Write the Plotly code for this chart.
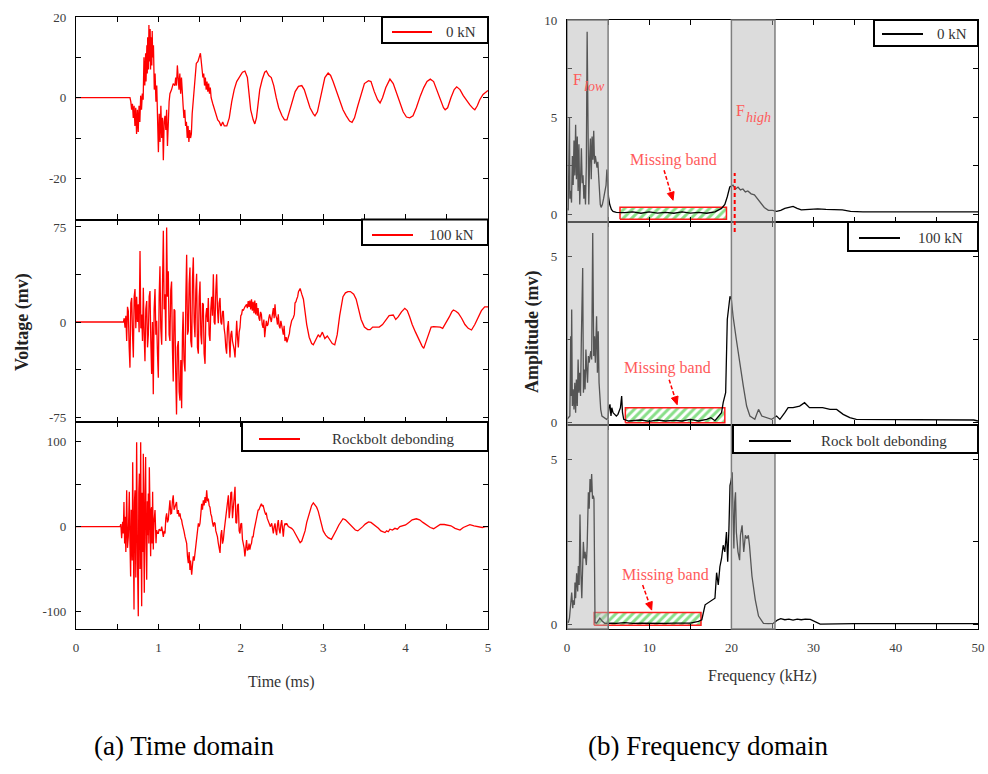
import math
import plotly.graph_objects as go

W, H = 988, 774

# ---------------- data ----------------
# time-domain signals: (time ms, voltage mV)
sig_0kN = [(0,0),(0.655,0),(0.665,-1),(0.675,-3),(0.685,-1.5),(0.695,-5),(0.705,-2),(0.715,-7),(0.725,-2.5),(0.735,-9),(0.745,-3),(0.755,-8.5),(0.765,-2),(0.775,-6),(0.785,0.5),(0.795,-3),(0.805,1),(0.815,-0.5),(0.825,10),(0.835,3),(0.845,11),(0.85,4),(0.86,13),(0.865,6),(0.87,15),(0.88,7),(0.885,18),(0.89,9),(0.90,17),(0.905,7),(0.91,15),(0.92,8),(0.925,16.5),(0.93,10),(0.94,13),(0.95,2),(0.96,6),(0.97,-1),(0.98,3),(0.99,-6),(1.00,-13.5),(1.01,-4),(1.02,-11),(1.03,-2),(1.04,-10),(1.05,-5),(1.06,-15.5),(1.07,-6),(1.08,-4.5),(1.09,-8),(1.10,-3),(1.11,-12),(1.12,-5),(1.13,-1),(1.14,1),(1.16,2),(1.18,3.5),(1.20,3),(1.21,5),(1.22,3),(1.23,8),(1.24,5),(1.25,2),(1.26,6),(1.27,1),(1.28,5),(1.29,-1),(1.30,-2),(1.31,-5),(1.32,-3),(1.33,-7),(1.34,-6),(1.35,-10),(1.36,-7),(1.37,-11),(1.38,-8),(1.39,-10),(1.40,-9),(1.41,-4),(1.42,-1),(1.44,4),(1.46,8.5),(1.48,9),(1.50,10.5),(1.51,11),(1.52,9),(1.53,7),(1.54,5),(1.55,6),(1.56,3),(1.57,5),(1.58,2),(1.59,4),(1.60,1.5),(1.61,3.5),(1.62,1),(1.63,2.5),(1.64,0),(1.66,-1.5),(1.68,-3),(1.70,-4.5),(1.72,-5.5),(1.74,-6),(1.76,-7),(1.78,-6),(1.80,-7),(1.83,-7),(1.86,-5),(1.89,-1),(1.92,2),(1.95,4),(1.98,5),(2.02,6.3),(2.05,6.6),(2.08,5),(2.10,1),(2.12,-3),(2.15,-5.5),(2.17,-6.5),(2.19,-5),(2.21,-1),(2.23,2),(2.26,4.5),(2.29,6.3),(2.31,6.6),(2.34,5.5),(2.37,5),(2.40,3),(2.43,0),(2.46,-2.5),(2.50,-4.5),(2.53,-5.5),(2.56,-5.5),(2.59,-3.5),(2.62,-1),(2.66,1.5),(2.70,2.8),(2.74,3.0),(2.77,2),(2.80,0),(2.84,-2.5),(2.88,-4),(2.90,-4.5),(2.93,-3.5),(2.96,-0.5),(2.99,2.5),(3.02,5),(3.06,6.1),(3.09,5.5),(3.12,4),(3.16,1.5),(3.20,-1),(3.24,-3),(3.28,-4.5),(3.32,-5.8),(3.35,-6.1),(3.38,-5),(3.42,-2),(3.46,1),(3.50,3.5),(3.55,4.2),(3.58,4),(3.62,1.5),(3.66,-0.5),(3.69,-1.3),(3.72,0),(3.76,2.5),(3.81,4.6),(3.85,3.5),(3.89,1),(3.93,-1.5),(3.97,-3.5),(4.01,-4.8),(4.05,-5),(4.09,-4.5),(4.13,-2.5),(4.18,0.5),(4.22,2.5),(4.26,4),(4.30,4.6),(4.34,4),(4.38,2),(4.42,-0.5),(4.46,-2.5),(4.48,-3),(4.51,-2.5),(4.55,0),(4.59,2),(4.62,2.7),(4.66,2),(4.70,0.5),(4.74,-0.8),(4.78,-1.8),(4.82,-2.7),(4.84,-3),(4.87,-2),(4.90,-0.5),(4.94,0.8),(4.98,1.6),(5.0,1.8)]

sig_100kN = [(0,0),(0.575,0),(0.585,3),(0.595,-4.5),(0.605,5),(0.615,-15),(0.625,12),(0.635,8.7),(0.645,-20),(0.655,-36),(0.665,15),(0.676,19),(0.686,-10),(0.696,-28),(0.706,20),(0.716,26),(0.726,-5),(0.736,20),(0.746,0),(0.756,14),(0.766,-8),(0.777,56),(0.787,-5),(0.797,6),(0.807,-15),(0.817,27),(0.827,-10),(0.837,-31),(0.847,10),(0.858,16.6),(0.868,-20),(0.878,-10),(0.888,20),(0.898,24.5),(0.908,-15),(0.918,-41),(0.928,0),(0.938,-57),(0.948,10),(0.959,26),(0.969,-10),(0.979,1),(0.989,-25),(0.999,-44),(1.009,20),(1.019,44),(1.029,-5),(1.04,-18),(1.05,30),(1.06,72),(1.07,10),(1.08,22),(1.09,-15),(1.10,74.5),(1.11,20),(1.12,40),(1.13,-10),(1.14,-15),(1.15,25),(1.16,32),(1.17,-20),(1.18,-47),(1.19,10),(1.20,9),(1.21,-40),(1.22,-73),(1.23,-20),(1.242,-15),(1.252,-55),(1.262,-62),(1.272,-30),(1.282,-68),(1.292,-10),(1.30,8),(1.31,-30),(1.323,-39),(1.333,20),(1.343,53),(1.353,-10),(1.363,-7),(1.373,30),(1.383,43),(1.393,-15),(1.404,-20),(1.414,35),(1.424,51),(1.434,0),(1.444,-12),(1.454,25),(1.464,38),(1.474,-20),(1.485,-25),(1.495,20),(1.505,32),(1.515,-10),(1.525,-17.6),(1.535,15),(1.545,14),(1.555,-25),(1.566,-33),(1.576,5),(1.586,11),(1.596,0),(1.606,19),(1.616,-10),(1.626,-15),(1.636,10),(1.646,20),(1.656,5),(1.667,37.6),(1.677,0),(1.687,-2),(1.697,25),(1.707,37.6),(1.717,10),(1.727,-1),(1.737,15),(1.748,19),(1.758,0),(1.768,-2),(1.778,8),(1.788,8.7),(1.798,-5),(1.808,-10),(1.818,-20),(1.828,-25),(1.838,-5),(1.849,0.8),(1.859,-15),(1.869,-28),(1.879,-10),(1.889,-7),(1.899,-15),(1.909,-18),(1.92,-22),(1.93,-28),(1.94,-10),(1.95,1),(1.96,-12),(1.97,-20),(1.98,-8),(1.99,-4.5),(2.00,5),(2.01,6),(2.02,10),(2.03,9),(2.05,12),(2.07,14),(2.08,11),(2.09,16.6),(2.10,12),(2.11,17),(2.12,10),(2.13,18),(2.14,9),(2.15,16),(2.16,7),(2.17,17),(2.18,6),(2.19,15),(2.20,5),(2.21,11),(2.22,3),(2.23,1),(2.24,8),(2.25,6),(2.26,-2),(2.27,-4.5),(2.28,2),(2.29,-12),(2.30,-5),(2.31,1),(2.32,-3),(2.33,-2),(2.34,3),(2.35,6),(2.37,0),(2.395,11),(2.405,3),(2.415,14),(2.425,5),(2.435,3),(2.445,-2),(2.455,6),(2.465,-3),(2.476,-5),(2.486,1),(2.496,-2),(2.506,-7),(2.516,-10),(2.526,-3),(2.536,-15),(2.55,-12),(2.56,-16),(2.577,-12),(2.59,-9),(2.597,-5),(2.617,1),(2.637,3.4),(2.65,6),(2.658,15),(2.67,16),(2.678,18),(2.69,20),(2.70,24),(2.72,26.5),(2.74,22),(2.76,18),(2.78,8),(2.80,-2),(2.83,-12),(2.86,-17),(2.88,-18),(2.91,-14),(2.94,-10),(2.96,-12),(2.99,-8),(3.02,-13),(3.05,-11),(3.08,-14),(3.11,-17),(3.14,-18),(3.17,-10),(3.20,5),(3.22,14),(3.24,20),(3.27,23),(3.30,24),(3.33,24),(3.37,22),(3.40,18),(3.43,10),(3.46,2),(3.50,-4),(3.54,-6),(3.57,-6),(3.60,-4),(3.64,-4),(3.68,-4),(3.72,-2),(3.76,2),(3.80,5),(3.85,5.5),(3.88,2),(3.91,4),(3.95,8),(3.99,10.8),(4.02,9),(4.05,4),(4.08,-2),(4.12,-8),(4.16,-14),(4.20,-19),(4.22,-20.8),(4.25,-15),(4.28,-8),(4.31,-4),(4.34,-3.7),(4.38,-3.7),(4.42,-4),(4.45,-5),(4.49,-1),(4.53,4),(4.56,8),(4.58,9.5),(4.61,8.5),(4.64,7),(4.68,3),(4.72,-2),(4.76,-5),(4.80,-6.3),(4.84,-2),(4.88,4),(4.92,9),(4.96,12),(5.0,12)]

sig_debond = [(0,0),(0.534,0),(0.544,3),(0.554,-13.7),(0.566,5.8),(0.574,-8),(0.582,29),(0.59,-20),(0.595,11.7),(0.605,-30),(0.615,43),(0.625,-25),(0.635,-11.8),(0.647,41),(0.655,-20),(0.663,-58.7),(0.67,20),(0.676,0),(0.682,-40),(0.688,76),(0.696,-30),(0.704,-97.7),(0.71,30),(0.716,43),(0.726,-60),(0.736,99.6),(0.746,-40),(0.756,-105.6),(0.762,40),(0.769,62.5),(0.777,-50),(0.785,99.6),(0.791,-20),(0.797,-93.8),(0.803,40),(0.809,35),(0.813,-30),(0.817,86),(0.823,-20),(0.829,-78),(0.837,40),(0.845,82),(0.851,-20),(0.858,-62.6),(0.866,30),(0.872,-10),(0.878,39),(0.884,-20),(0.890,70),(0.898,-15),(0.906,-35),(0.912,20),(0.918,23),(0.924,-20),(0.930,41),(0.938,-27),(0.946,5),(0.959,19.5),(0.965,-10),(0.971,-19.6),(0.979,-4),(0.989,-8),(0.999,-8),(1.009,-3),(1.019,-4),(1.03,-5),(1.04,0),(1.05,-8),(1.06,-12),(1.07,-5),(1.08,-8),(1.09,10),(1.10,15.6),(1.11,5),(1.12,8),(1.13,20),(1.14,31),(1.15,15),(1.16,15.6),(1.17,30),(1.18,37),(1.19,20),(1.20,23),(1.21,25),(1.22,29),(1.23,15),(1.242,19.5),(1.25,12),(1.262,15.6),(1.27,10),(1.282,7.8),(1.29,3),(1.30,0),(1.31,-5),(1.323,-11.8),(1.333,-15),(1.343,-19.6),(1.353,-35),(1.363,-43),(1.373,-30),(1.383,-51),(1.39,-40),(1.404,-56.7),(1.414,-45),(1.424,-35),(1.434,-40),(1.444,-31),(1.454,-20),(1.464,-8),(1.474,0),(1.485,3.9),(1.495,0),(1.505,4),(1.515,15),(1.525,27),(1.535,20),(1.545,31),(1.555,25),(1.566,35),(1.576,28),(1.586,43),(1.596,30),(1.606,33),(1.616,25),(1.626,23),(1.636,15),(1.646,12),(1.656,5),(1.667,0),(1.677,5),(1.687,3.9),(1.697,-5),(1.707,-8),(1.717,-12),(1.727,-19.6),(1.737,-25),(1.748,-31),(1.758,-10),(1.768,-4),(1.778,-20),(1.788,-15.7),(1.798,-5),(1.808,3.9),(1.818,15),(1.828,23.4),(1.838,30),(1.849,37),(1.859,10),(1.869,19.5),(1.879,40),(1.889,41),(1.899,10),(1.909,23),(1.92,35),(1.93,47),(1.94,5),(1.95,3.9),(1.96,25),(1.97,27),(1.98,-5),(1.99,-8),(2.00,3),(2.01,4),(2.02,-15),(2.03,-19.6),(2.04,-25),(2.05,-35),(2.06,-20),(2.07,-15.7),(2.08,-28),(2.09,-27),(2.10,-20),(2.11,-27),(2.12,-22),(2.13,-19.6),(2.14,-12),(2.15,-12),(2.16,-5),(2.17,0),(2.18,3),(2.19,6),(2.20,12),(2.21,19.5),(2.22,20),(2.23,23.4),(2.24,25),(2.25,27),(2.26,24),(2.27,25.4),(2.28,20),(2.29,17.5),(2.30,15),(2.31,15.6),(2.32,10),(2.33,7.8),(2.34,5),(2.35,3.9),(2.36,0),(2.375,3.9),(2.385,-5),(2.395,-8),(2.405,0),(2.415,3.9),(2.425,-5),(2.435,-10),(2.445,2),(2.455,7.8),(2.465,-3),(2.476,-8),(2.486,2),(2.496,7.8),(2.506,-2),(2.516,-11.8),(2.526,0),(2.536,3.9),(2.546,2),(2.556,3.9),(2.577,0),(2.597,-1),(2.617,-2),(2.637,-4),(2.658,-8),(2.678,-12),(2.698,-15.7),(2.72,-18.8),(2.74,-17),(2.76,-12),(2.78,-5),(2.80,5),(2.82,12),(2.84,20),(2.86,25),(2.88,28),(2.90,25),(2.92,23),(2.94,18),(2.96,10),(2.98,2),(3.00,-5),(3.03,-10),(3.06,-13),(3.10,-15),(3.13,-10),(3.16,-4),(3.19,2),(3.22,6),(3.24,9.3),(3.27,8),(3.30,5),(3.33,1),(3.36,-2),(3.39,-4),(3.42,-5),(3.45,-3),(3.48,0),(3.51,3),(3.55,5.5),(3.58,5),(3.61,3),(3.64,0),(3.67,-2),(3.70,-5),(3.73,-6),(3.75,-7),(3.77,-5),(3.79,-6),(3.81,-3),(3.84,-4),(3.87,-2),(3.90,-3),(3.93,0),(3.97,0.8),(4.00,2),(4.04,5),(4.08,8),(4.13,9.3),(4.17,8),(4.21,5),(4.25,2),(4.30,-1),(4.34,-2.4),(4.38,0),(4.42,2.7),(4.47,2.5),(4.51,2),(4.55,1),(4.60,-2),(4.66,-4),(4.70,-1),(4.74,1),(4.78,2.3),(4.83,1),(4.88,0),(4.93,-1),(4.97,0),(5.0,0)]

# spectra: (frequency kHz, amplitude mV)
spec_0kN = [(0.0,0.3),(0.15,0.2),(0.3,5.0),(0.35,0.8),(0.45,1.2),(0.55,0.6),(0.65,3.0),(0.75,1.5),(0.85,3.8),(0.95,2.0),(1.05,4.6),(1.15,1.8),(1.25,4.0),(1.35,1.2),(1.45,3.6),(1.55,0.5),(1.65,1.8),(1.75,3.4),(1.85,1.6),(1.95,2.0),(2.05,0.8),(2.15,1.5),(2.25,0.5),(2.35,2.5),(2.45,9.4),(2.55,1.2),(2.65,0.5),(2.75,2.8),(2.85,3.9),(2.95,1.8),(3.05,4.0),(3.15,2.8),(3.25,4.3),(3.35,2.6),(3.45,3.0),(3.55,2.7),(3.65,2.4),(3.75,2.7),(3.85,1.8),(3.95,1.0),(4.05,0.5),(4.15,0.35),(4.3,0.5),(4.45,0.8),(4.6,1.2),(4.75,1.5),(4.85,2.3),(4.95,1.6),(5.05,0.9),(5.2,0.5),(5.4,0.25),(5.6,0.15),(6.0,0.1),(7,0.08),(8,0.12),(9,0.05),(10,0.12),(11,0.06),(12,0.1),(13,0.05),(14,0.12),(15,0.06),(16,0.1),(17,0.05),(18,0.12),(18.8,0.3),(19.2,0.5),(19.5,0.9),(19.8,1.4),(20.2,1.5),(20.5,1.3),(20.8,1.4),(21.1,1.25),(21.4,1.3),(21.7,1.15),(22.0,1.2),(22.4,1.05),(22.8,1.0),(23.2,0.8),(23.6,0.6),(24.0,0.35),(24.5,0.2),(25.0,0.2),(25.5,0.15),(26.0,0.2),(26.5,0.3),(27.0,0.35),(27.5,0.4),(28.0,0.3),(28.5,0.22),(29.5,0.25),(30.5,0.28),(31.5,0.25),(32.5,0.22),(33.5,0.22),(34.5,0.15),(36,0.12),(40,0.12),(45,0.12),(50,0.12)]

spec_100kN = [(0.0,0.1),(0.2,0.15),(0.35,0.2),(0.45,2.6),(0.5,0.8),(0.57,3.4),(0.65,0.5),(0.75,1.0),(0.85,0.4),(0.95,1.2),(1.05,0.3),(1.14,1.3),(1.25,0.5),(1.35,1.9),(1.45,0.9),(1.55,1.5),(1.65,0.8),(1.75,2.6),(1.91,4.65),(2.0,0.9),(2.1,1.6),(2.2,1.0),(2.3,2.2),(2.4,1.6),(2.5,1.2),(2.6,2.0),(2.7,1.8),(2.8,2.0),(2.9,2.15),(3.0,1.9),(3.13,5.7),(3.25,2.0),(3.35,2.6),(3.45,1.8),(3.6,3.2),(3.7,1.5),(3.8,2.75),(3.9,1.2),(4.0,0.8),(4.1,0.4),(4.25,0.2),(4.5,0.15),(4.82,0.1),(5.0,0.15),(5.1,0.45),(5.23,0.55),(5.35,0.2),(5.45,0.45),(5.6,0.3),(5.8,0.25),(6.0,0.2),(6.2,0.25),(6.5,0.45),(6.65,0.8),(6.75,0.3),(6.9,0.1),(7.5,0.05),(9,0.08),(10,0.04),(11,0.08),(12,0.05),(13,0.07),(14,0.05),(15,0.1),(16,0.05),(17,0.1),(17.5,0.15),(18,0.06),(18.5,0.2),(18.8,0.3),(19.0,0.6),(19.3,0.9),(19.5,3.1),(19.83,3.8),(20.0,3.7),(20.2,3.2),(20.6,2.5),(21.0,1.8),(21.45,1.1),(21.85,0.5),(22.25,0.2),(22.85,0.1),(23.3,0.4),(23.7,0.2),(24.3,0.15),(24.9,0.1),(25.5,0.2),(25.9,0.1),(26.5,0.3),(26.9,0.45),(27.5,0.45),(28.3,0.5),(28.9,0.6),(29.5,0.45),(30.3,0.45),(31.1,0.45),(32.0,0.4),(32.8,0.4),(33.6,0.25),(34.4,0.15),(35.2,0.1),(38,0.1),(40,0.08),(42,0.1),(44,0.08),(46,0.1),(48,0.1),(49.5,0.08),(50,0.05)]

spec_debond = [(0.0,0.1),(0.16,0.06),(0.3,0.2),(0.45,0.6),(0.57,0.97),(0.7,0.5),(0.77,0.74),(0.9,0.6),(0.97,1.27),(1.05,0.8),(1.17,1.55),(1.3,1.0),(1.38,1.77),(1.48,1.2),(1.58,3.33),(1.7,1.5),(1.8,0.8),(1.99,2.5),(2.1,2.0),(2.2,2.2),(2.35,1.8),(2.45,2.35),(2.6,4.0),(2.7,3.5),(2.8,4.4),(2.9,4.0),(3.0,4.55),(3.1,3.8),(3.2,3.9),(3.28,3.8),(3.35,1.0),(3.41,0.06),(3.6,0.05),(4.0,0.2),(4.3,0.1),(4.6,0.04),(5.5,0.05),(6,0.04),(7,0.06),(8,0.04),(9,0.05),(10,0.04),(11,0.05),(12,0.04),(13,0.05),(14,0.04),(15,0.05),(16.0,0.1),(16.4,0.15),(16.8,0.6),(17.4,0.7),(17.7,0.76),(18.0,0.8),(18.2,1.57),(18.4,1.2),(18.6,1.75),(18.8,2.0),(19.0,2.4),(19.2,2.2),(19.4,2.8),(19.55,1.9),(19.7,2.9),(19.83,4.2),(20.0,4.4),(20.1,4.6),(20.2,3.4),(20.3,2.3),(20.4,3.7),(20.5,4.0),(20.6,2.8),(20.8,2.2),(21.0,1.95),(21.1,2.7),(21.3,3.0),(21.5,2.2),(21.7,2.7),(21.9,2.6),(22.06,2.7),(22.2,2.4),(22.5,1.47),(22.9,0.76),(23.3,0.26),(23.9,0.04),(24.5,0.03),(25.1,0.04),(25.6,0.14),(26.0,0.18),(26.5,0.15),(27.0,0.17),(27.5,0.14),(28.0,0.17),(28.5,0.15),(29.0,0.17),(29.6,0.16),(30.2,0.1),(30.8,0.02),(35,0.03),(40,0.02),(45,0.03),(50,0.03)]

legend_names = ["0 kN", "100 kN", "Rockbolt debonding"]
legend_names_freq = ["0 kN", "100 kN", "Rock bolt debonding"]

time_ticks = [0, 1, 2, 3, 4, 5]
time_minor = [0.5, 1.5, 2.5, 3.5, 4.5]
freq_ticks = [0, 10, 20, 30, 40, 50]
freq_minor = [5, 15, 25, 35, 45]

# frequency bands (kHz) and missing-band boxes (f0, f1, a0, a1)
band_low = (0, 5)
band_high = (20, 25.3)
f_high_marker = 20.4
missing_boxes = [(6.45, 19.4, -0.26, 0.36), (7.1, 19.2, 0.0, 0.45), (3.3, 16.3, -0.02, 0.37)]

# ---------------- layout geometry (pixels) ----------------
LX = (76, 488)
RX = (567, 978)
L_rows = [(17, 219.5), (219.5, 422), (422, 629)]
R_rows = [(20, 222), (222, 425), (425, 629)]

def px(x):
    return x / W

def py(y):
    return 1 - y / H

FONT = "Liberation Serif"
TICKC = "#3c3c3c"

fig = go.Figure()

for i, (f0, f1, a0, a1) in enumerate(missing_boxes):
    fig.add_trace(go.Scatter(
        x=[f0, f1, f1, f0, f0], y=[a0, a0, a1, a1, a0], mode="lines",
        fill="toself", fillcolor="white",
        fillpattern=dict(shape="/", fgcolor="#12c012", bgcolor="white", size=6, solidity=0.5),
        line=dict(color="#ff1a1a", width=1.5), showlegend=False, hoverinfo="skip",
        xaxis="x%d" % (4 + i), yaxis="y%d" % (4 + i)))

signals = [sig_0kN, sig_100kN, sig_debond]
spectra = [spec_0kN, spec_100kN, spec_debond]
for i, s in enumerate(signals):
    fig.add_trace(go.Scatter(
        x=[p[0] for p in s], y=[p[1] for p in s], mode="lines",
        line=dict(color="#ff0000", width=1.3), name=legend_names[i], showlegend=False,
        xaxis="x" if i == 0 else "x%d" % (i + 1), yaxis="y" if i == 0 else "y%d" % (i + 1)))
for i, s in enumerate(spectra):
    fig.add_trace(go.Scatter(
        x=[p[0] for p in s], y=[p[1] for p in s], mode="lines",
        line=dict(color="#000000", width=1.3), name=legend_names_freq[i], showlegend=False,
        xaxis="x%d" % (4 + i), yaxis="y%d" % (4 + i)))

axis_common = dict(showline=True, linecolor="black", linewidth=1.3, mirror="allticks",
                   ticks="inside", ticklen=5, tickwidth=1.2, tickcolor="black",
                   showgrid=False, zeroline=False, automargin=False,
                   tickfont=dict(family=FONT, size=13, color=TICKC))

def minor_ticks(vals):
    return dict(ticks="inside", ticklen=5, tickcolor="black", tickmode="array", tickvals=vals)

def x_axis(domain, rng, anchor, major, minor, labelled):
    if labelled:
        return dict(axis_common, domain=domain, range=rng, anchor=anchor, tickmode="array",
                    tickvals=major, ticktext=[str(v) for v in major], ticklabelstandoff=6,
                    minor=minor_ticks(minor))
    return dict(axis_common, domain=domain, range=rng, anchor=anchor, tickmode="array",
                tickvals=[], showticklabels=False,
                minor=minor_ticks(sorted(major + minor)))

left_y = [
    dict(range=[-30.2, 20], tickvals=[-20, 0, 20], ticktext=["-20", "0", "20"], minor=[-10, 10]),
    dict(range=[-78.9, 80.9], tickvals=[-75, 0, 75], ticktext=["-75", "0", "75"], minor=[-37.5, 37.5]),
    dict(range=[-120.7, 123.4], tickvals=[-100, 0, 100], ticktext=["-100", "0", "100"], minor=[-50, 50]),
]
right_y = [
    dict(range=[-0.4, 10], tickvals=[0, 5, 10], ticktext=["0", "5", "10"], minor=[2.5, 7.5]),
    dict(range=[-0.07, 6.03], tickvals=[0, 5], ticktext=["0", "5"], minor=[2.5]),
    dict(range=[-0.13, 6.03], tickvals=[0, 5], ticktext=["0", "5"], minor=[2.5]),
]

lay = {}
for i in range(3):
    xn = "xaxis" if i == 0 else "xaxis%d" % (i + 1)
    yn = "yaxis" if i == 0 else "yaxis%d" % (i + 1)
    yid = "y" if i == 0 else "y%d" % (i + 1)
    xid = "x" if i == 0 else "x%d" % (i + 1)
    top, bot = L_rows[i]
    lay[xn] = x_axis([px(LX[0]), px(LX[1])], [0, 5], yid, time_ticks, time_minor, i == 2)
    ly = left_y[i]
    lay[yn] = dict(axis_common, domain=[py(bot), py(top)], range=ly["range"], anchor=xid,
                   tickmode="array", tickvals=ly["tickvals"], ticktext=ly["ticktext"],
                   ticklabelstandoff=6, minor=minor_ticks(ly["minor"]))
    k = 4 + i
    top, bot = R_rows[i]
    lay["xaxis%d" % k] = x_axis([px(RX[0]), px(RX[1])], [0, 50], "y%d" % k,
                                freq_ticks, freq_minor, i == 2)
    ry = right_y[i]
    lay["yaxis%d" % k] = dict(axis_common, domain=[py(bot), py(top)], range=ry["range"],
                              anchor="x%d" % k, tickmode="array", tickvals=ry["tickvals"],
                              ticktext=ry["ticktext"], ticklabelstandoff=6,
                              minor=minor_ticks(ry["minor"]))

fig.update_layout(width=W, height=H, autosize=False,
                  margin=dict(l=0, r=0, t=0, b=0),
                  paper_bgcolor="white", plot_bgcolor="white", showlegend=False, **lay)

shapes = []
annotations = []

for (b0, b1) in (band_low, band_high):
    shapes.append(dict(type="rect", xref="x4", yref="paper", x0=b0, x1=b1,
                       y0=py(R_rows[2][1]), y1=py(R_rows[0][0]), layer="above",
                       fillcolor="rgba(181,181,181,0.47)",
                       line=dict(color="#7f7f7f", width=1.5)))
shapes.append(dict(type="line", xref="x4", yref="paper", x0=f_high_marker, x1=f_high_marker,
                   y0=py(232), y1=py(173), layer="above",
                   line=dict(color="#ff0000", width=2, dash="4px,3px")))

legend_boxes = [
    (382, 17, 488, 43, 392, 432, 32, 461, legend_names[0], "#ff0000"),
    (362, 219.5, 488, 245, 372, 413, 235, 451, legend_names[1], "#ff0000"),
    (242, 422, 488, 451, 259, 300, 439, 393, legend_names[2], "#ff0000"),
    (874, 20, 978, 46, 882, 923, 34, 952, legend_names_freq[0], "#000000"),
    (848, 222, 978, 251, 859, 900, 238, 940, legend_names_freq[1], "#000000"),
    (733, 425, 978, 453, 749, 791, 441, 884, legend_names_freq[2], "#000000"),
]
for (bl, bt, br, bb, lx0, lx1, lyy, tc, name, col) in legend_boxes:
    shapes.append(dict(type="rect", xref="paper", yref="paper", x0=px(bl), x1=px(br),
                       y0=py(bb), y1=py(bt), fillcolor="white",
                       line=dict(color="black", width=2), layer="above"))
    shapes.append(dict(type="line", xref="paper", yref="paper", x0=px(lx0), x1=px(lx1),
                       y0=py(lyy), y1=py(lyy), line=dict(color=col, width=1.8), layer="above"))
    annotations.append(dict(text=name, xref="paper", yref="paper", x=px(tc), y=py(lyy),
                            xanchor="center", yanchor="middle", showarrow=False,
                            font=dict(family=FONT, size=15, color="#333333")))

RED_TXT = "#ff5a5a"
missing_labels = [
    (673, 160, 12.9, 0.72, -9, -30, 4),
    (667, 368, 13.4, 0.54, -8, -25, 5),
    (665, 575, 10.3, 0.44, -9, -25, 6),
]
for (tx, ty, hf, ha, dx, dy, k) in missing_labels:
    annotations.append(dict(text="Missing band", xref="paper", yref="paper", x=px(tx), y=py(ty),
                            xanchor="center", yanchor="middle", showarrow=False,
                            font=dict(family=FONT, size=16, color=RED_TXT)))
    tx0, ty0 = dx, -dy
    L = math.hypot(tx0, ty0)
    ux, uy = -tx0 / L, -ty0 / L
    nx, ny = -uy, ux
    hl, hw = 8.0, 3.5
    bx, by = -hl * ux, -hl * uy
    shapes.append(dict(type="path", xref="x%d" % k, yref="y%d" % k,
                       xsizemode="pixel", ysizemode="pixel", xanchor=hf, yanchor=ha,
                       path="M%.2f,%.2f L%.2f,%.2f" % (tx0, ty0, bx, by),
                       line=dict(color="#ff0000", width=1.5, dash="4px,2px"), layer="above"))
    shapes.append(dict(type="path", xref="x%d" % k, yref="y%d" % k,
                       xsizemode="pixel", ysizemode="pixel", xanchor=hf, yanchor=ha,
                       path="M0,0 L%.2f,%.2f L%.2f,%.2f Z" % (bx + hw * nx, by + hw * ny,
                                                              bx - hw * nx, by - hw * ny),
                       fillcolor="#ff0000", line=dict(color="#ff0000", width=1), layer="above"))

# F_low / F_high labels: main letter plus italic subscript as separate texts
band_labels = [
    ("F", 577, 79, "normal", 16), ("low", 594, 86, "italic", 14),
    ("F", 740, 110, "normal", 16), ("high", 758, 117, "italic", 14),
]
for (txt, lx, lyy, style, size) in band_labels:
    annotations.append(dict(text=txt, xref="paper", yref="paper", x=px(lx), y=py(lyy),
                            xanchor="center", yanchor="middle", showarrow=False,
                            font=dict(family=FONT, size=size, color=RED_TXT, style=style)))

annotations.append(dict(text="<b>Voltage (mv)</b>", xref="paper", yref="paper", x=px(22), y=py(322),
                        textangle=-90, showarrow=False, xanchor="center", yanchor="middle",
                        font=dict(family=FONT, size=18, color="#222222")))
annotations.append(dict(text="<b>Amplitude (mv)</b>", xref="paper", yref="paper", x=px(533), y=py(332),
                        textangle=-90, showarrow=False, xanchor="center", yanchor="middle",
                        font=dict(family=FONT, size=18, color="#222222")))
annotations.append(dict(text="Time (ms)", xref="paper", yref="paper", x=px(281), y=py(682),
                        showarrow=False, xanchor="center", yanchor="middle",
                        font=dict(family=FONT, size=16, color="#333333")))
annotations.append(dict(text="Frequency (kHz)", xref="paper", yref="paper", x=px(762), y=py(676),
                        showarrow=False, xanchor="center", yanchor="middle",
                        font=dict(family=FONT, size=16, color="#333333")))
annotations.append(dict(text="(a) Time domain", xref="paper", yref="paper", x=px(184), y=py(746),
                        showarrow=False, xanchor="center", yanchor="middle",
                        font=dict(family=FONT, size=27, color="#000000")))
annotations.append(dict(text="(b) Frequency domain", xref="paper", yref="paper", x=px(708), y=py(746),
                        showarrow=False, xanchor="center", yanchor="middle",
                        font=dict(family=FONT, size=27, color="#000000")))

fig.update_layout(shapes=shapes, annotations=annotations)
fig.write_html("out.html")
